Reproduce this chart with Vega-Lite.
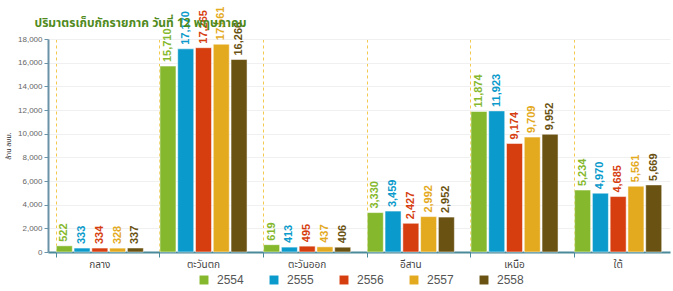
{
  "$schema": "https://vega.github.io/schema/vega-lite/v6.json",
  "autosize": {"type": "none"},
  "width": 622,
  "height": 213,
  "padding": {"left": 48, "top": 39, "right": 3, "bottom": 39},
  "background": "white",
  "title": {
    "text": "ปริมาตรเก็บกักรายภาค วันที่ 12 พฤษภาคม",
    "anchor": "start",
    "dx": 30,
    "offset": -23,
    "fontSize": 12,
    "fontWeight": "bold",
    "color": "#4f8a1c",
    "font": "Noto Sans Thai, Tahoma, sans-serif"
  },
  "data": {
    "values": [
      {"region": "กลาง", "year": "2554", "value": 522},
      {"region": "กลาง", "year": "2555", "value": 333},
      {"region": "กลาง", "year": "2556", "value": 334},
      {"region": "กลาง", "year": "2557", "value": 328},
      {"region": "กลาง", "year": "2558", "value": 337},
      {"region": "ตะวันตก", "year": "2554", "value": 15710},
      {"region": "ตะวันตก", "year": "2555", "value": 17170},
      {"region": "ตะวันตก", "year": "2556", "value": 17265},
      {"region": "ตะวันตก", "year": "2557", "value": 17561},
      {"region": "ตะวันตก", "year": "2558", "value": 16266},
      {"region": "ตะวันออก", "year": "2554", "value": 619},
      {"region": "ตะวันออก", "year": "2555", "value": 413},
      {"region": "ตะวันออก", "year": "2556", "value": 495},
      {"region": "ตะวันออก", "year": "2557", "value": 437},
      {"region": "ตะวันออก", "year": "2558", "value": 406},
      {"region": "อีสาน", "year": "2554", "value": 3330},
      {"region": "อีสาน", "year": "2555", "value": 3459},
      {"region": "อีสาน", "year": "2556", "value": 2427},
      {"region": "อีสาน", "year": "2557", "value": 2992},
      {"region": "อีสาน", "year": "2558", "value": 2952},
      {"region": "เหนือ", "year": "2554", "value": 11874},
      {"region": "เหนือ", "year": "2555", "value": 11923},
      {"region": "เหนือ", "year": "2556", "value": 9174},
      {"region": "เหนือ", "year": "2557", "value": 9709},
      {"region": "เหนือ", "year": "2558", "value": 9952},
      {"region": "ใต้", "year": "2554", "value": 5234},
      {"region": "ใต้", "year": "2555", "value": 4970},
      {"region": "ใต้", "year": "2556", "value": 4685},
      {"region": "ใต้", "year": "2557", "value": 5561},
      {"region": "ใต้", "year": "2558", "value": 5669}
    ]
  },
  "encoding": {
    "x": {
      "field": "region",
      "type": "nominal",
      "sort": null,
      "scale": {"paddingInner": 0.16, "paddingOuter": 0.08},
      "axis": {
        "title": null,
        "labelAngle": 0,
        "bandPosition": 0,
        "grid": true,
        "gridColor": "#f2c94c",
        "gridDash": [3, 3],
        "gridWidth": 1,
        "domainColor": "#4a8a9a",
        "domainWidth": 2,
        "tickColor": "#4a8a9a",
        "tickSize": 5,
        "labelFontSize": 10,
        "labelColor": "#444444",
        "labelPadding": 2,
        "labelFont": "Noto Sans Thai, Tahoma, sans-serif"
      }
    },
    "xOffset": {"field": "year", "type": "nominal", "scale": {"paddingInner": 0.1}},
    "y": {
      "field": "value",
      "type": "quantitative",
      "scale": {"domain": [0, 18000], "nice": false},
      "axis": {
        "title": "ล้าน ลบม.",
        "titleFontSize": 7,
        "titleFontWeight": "normal",
        "titleColor": "#333333",
        "titlePadding": 6,
        "titleFont": "Noto Sans Thai, Tahoma, sans-serif",
        "values": [0, 2000, 4000, 6000, 8000, 10000, 12000, 14000, 16000, 18000],
        "format": ",.0f",
        "labelFontSize": 8,
        "labelColor": "#666666",
        "domainColor": "#6a93a8",
        "domainWidth": 2,
        "tickColor": "#6a93a8",
        "tickSize": 4,
        "gridColor": "#f0f0f0"
      }
    },
    "color": {
      "field": "year",
      "type": "nominal",
      "scale": {
        "domain": ["2554", "2555", "2556", "2557", "2558"],
        "range": ["#85b82c", "#0a9acb", "#d63e10", "#e4aa1f", "#6a5213"]
      },
      "legend": {
        "title": null,
        "orient": "none",
        "legendX": 150,
        "legendY": 235,
        "direction": "horizontal",
        "columns": 5,
        "symbolType": "square",
        "symbolSize": 80,
        "symbolStrokeWidth": 0,
        "labelFontSize": 12,
        "labelColor": "#555555",
        "columnPadding": 24,
        "labelOffset": 7
      }
    }
  },
  "layer": [
    {"mark": {"type": "bar", "stroke": "white", "strokeWidth": 0.5}},
    {
      "mark": {
        "type": "text",
        "angle": -90,
        "align": "left",
        "baseline": "middle",
        "dx": 4,
        "fontSize": 11,
        "fontWeight": "bold"
      },
      "encoding": {"text": {"field": "value", "type": "quantitative", "format": ","}}
    }
  ],
  "config": {"view": {"stroke": null}}
}
